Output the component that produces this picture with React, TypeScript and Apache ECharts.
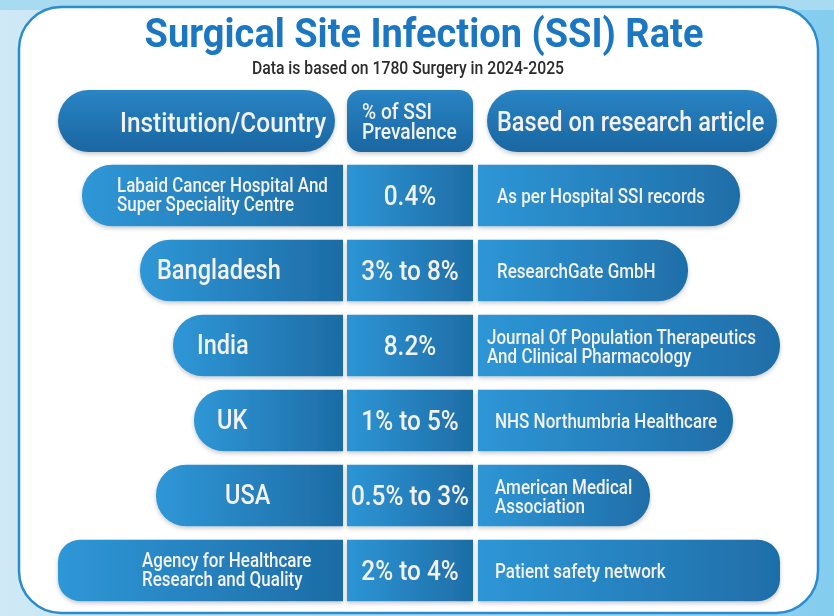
import React, { useEffect, useRef } from "react";
import * as echarts from "echarts";

// ---- content ----
const titleText = "Surgical Site Infection (SSI) Rate";
const subtitleText = "Data is based on 1780 Surgery in 2024-2025";
const headers = ["Institution/Country", "% of SSI\nPrevalence", "Based on research article"];
const institutions = [
  "Labaid Cancer Hospital And\nSuper Speciality Centre",
  "Bangladesh",
  "India",
  "UK",
  "USA",
  "Agency for Healthcare\nResearch and Quality",
];
const prevalence = ["0.4%", "3% to 8%", "8.2%", "1% to 5%", "0.5% to 3%", "2% to 4%"];
const sources = [
  "As per Hospital SSI records",
  "ResearchGate GmbH",
  "Journal Of Population Therapeutics\nAnd Clinical Pharmacology",
  "NHS Northumbria Healthcare",
  "American Medical\nAssociation",
  "Patient safety network",
];
// pill extents (x units on a 0..834 axis)
const pillStart = [82, 140, 173, 194, 156, 58];
const pillEnd = [740, 688, 780, 733, 650, 780];

// ---- layout (positions / sizes) ----
const labelX = [117, 157, 197, 217, 225, 142];
const labelSize = [19.5, 27, 27, 27, 27, 19.5];
const sourceX = [497, 497, 487, 495, 495, 495];
const sourceSize = [19.5, 19.5, 19.5, 19.5, 19.5, 19.5];
const LEFT_END = 343;
const MID_START = 347;
const MID_END = 473;
const RIGHT_START = 478;
const SX = 0.872;
const FONT = "Roboto";
const TXT = "#f3f1f1";

const hGrad = (a: string, b: string) =>
  new echarts.graphic.LinearGradient(0, 0, 1, 0, [
    { offset: 0, color: a },
    { offset: 1, color: b },
  ]);
const vGrad = (a: string, b: string) =>
  new echarts.graphic.LinearGradient(0, 0, 0, 1, [
    { offset: 0, color: a },
    { offset: 1, color: b },
  ]);

const shadow = {
  shadowBlur: 4,
  shadowColor: "rgba(0,0,0,0.22)",
  shadowOffsetY: 2,
};

function txt(
  text: string,
  x: number,
  y: number,
  size: number,
  align: string,
  opts: any = {}
) {
  return {
    type: "text",
    x,
    y,
    scaleX: opts.scaleX ?? SX,
    z: opts.z ?? 10,
    style: {
      text,
      x: 0,
      y: 0,
      fill: opts.fill ?? TXT,
      fontSize: size,
      fontFamily: FONT,
      fontWeight: opts.weight ?? 500,
      align,
      textAlign: align,
      verticalAlign: "middle",
      textVerticalAlign: "middle",
      lineHeight: opts.lineHeight ?? Math.round(size * 0.98),
    },
  };
}

export default function App() {
  const ref = useRef<HTMLDivElement>(null);

  useEffect(() => {
    if (!ref.current) return;
    const chart = echarts.init(ref.current, undefined, { renderer: "svg" });

    const headerPills = [
      { x0: 58, x1: 335, tx: 120, size: 28, align: "left" },
      { x0: 347, x1: 473, tx: 362, size: 22, align: "left" },
      { x0: 487, x1: 777, tx: 497, size: 27, align: "left" },
    ];
    const headerY0 = 90;
    const headerY1 = 152;

    const graphics: any[] = [
      // background
      {
        type: "rect",
        z: -10,
        shape: { x: 0, y: 0, width: 834, height: 616 },
        style: { fill: hGrad("#cfe9f6", "#84cdef") },
        silent: true,
      },
      {
        type: "rect",
        z: -9,
        shape: { x: 0, y: 0, width: 834, height: 10 },
        style: { fill: "#a8daf1" },
        silent: true,
      },
      // card
      {
        type: "rect",
        z: -5,
        shape: { x: 19, y: 7, width: 799, height: 606, r: 42 },
        style: { fill: "#ffffff", stroke: "#2a8ccc", lineWidth: 2.5 },
        silent: true,
      },
      // title
      txt(titleText, 424, 34, 40, "center", {
        fill: "#1b77c1",
        weight: "bold",
        scaleX: 0.95,
      }),
      txt(subtitleText, 408, 68, 17.5, "center", {
        fill: "#2b2b2b",
        weight: 500,
        scaleX: 0.9,
      }),
    ];

    headers.forEach((h, k) => {
      const p = headerPills[k];
      graphics.push({
        type: "rect",
        z: 1,
        shape: {
          x: p.x0,
          y: headerY0,
          width: p.x1 - p.x0,
          height: headerY1 - headerY0,
          r: k === 1 ? 14 : 31,
        },
        style: { fill: vGrad("#2a84c4", "#1a66a1"), ...shadow },
      });
      graphics.push(
        txt(h, p.tx, (headerY0 + headerY1) / 2 + 1, p.size, p.align, {
          lineHeight: k === 1 ? 20 : undefined,
        })
      );
    });

    const data = pillStart.map((s, i) => [i, s, pillEnd[i]]);

    const option: any = {
      animation: false,
      grid: { left: 0, right: 0, top: 158, bottom: 8 },
      xAxis: { type: "value", min: 0, max: 834, show: false },
      yAxis: {
        type: "category",
        data: institutions,
        inverse: true,
        show: false,
      },
      graphic: { elements: graphics },
      series: [
        {
          type: "custom",
          coordinateSystem: "cartesian2d",
          encode: { y: 0, x: [1, 2] },
          data,
          z: 5,
          renderItem: (params: any, api: any) => {
            const i = api.value(0);
            const yc = api.coord([0, i])[1];
            const bandH = api.size([0, 1])[1];
            const h = bandH * 0.82;
            const top = yc - h / 2;
            const x0 = api.coord([api.value(1), i])[0];
            const x1 = api.coord([api.value(2), i])[0];
            const le = api.coord([LEFT_END, i])[0];
            const ms = api.coord([MID_START, i])[0];
            const me = api.coord([MID_END, i])[0];
            const rs = api.coord([RIGHT_START, i])[0];
            const r = i === 5 ? 22 : 30;
            const rr = i === 5 ? 22 : 30;
            return {
              type: "group",
              children: [
                {
                  type: "rect",
                  shape: { x: x0, y: top, width: le - x0, height: h, r: [r, 0, 0, r] },
                  style: { fill: hGrad("#2f97d7", "#1d6ca5"), ...shadow },
                },
                {
                  type: "rect",
                  shape: { x: ms, y: top, width: me - ms, height: h, r: 0 },
                  style: { fill: hGrad("#2d95d5", "#1e6da6"), ...shadow },
                },
                {
                  type: "rect",
                  shape: { x: rs, y: top, width: x1 - rs, height: h, r: [0, rr, rr, 0] },
                  style: { fill: hGrad("#2e96d6", "#1f6ea8"), ...shadow },
                },
                txt(institutions[i], labelX[i], yc - 1, labelSize[i], "left", {
                  lineHeight: 19,
                }),
                txt(prevalence[i], (ms + me) / 2, yc, 28, "center"),
                txt(sources[i], sourceX[i], yc + 1, sourceSize[i], "left", {
                  lineHeight: 19,
                }),
              ],
            };
          },
        },
      ],
    };

    chart.setOption(option);
    return () => chart.dispose();
  }, []);

  return (
    <div
      ref={ref}
      style={{ position: "fixed", left: 0, top: 0, width: 834, height: 616 }}
    />
  );
}
